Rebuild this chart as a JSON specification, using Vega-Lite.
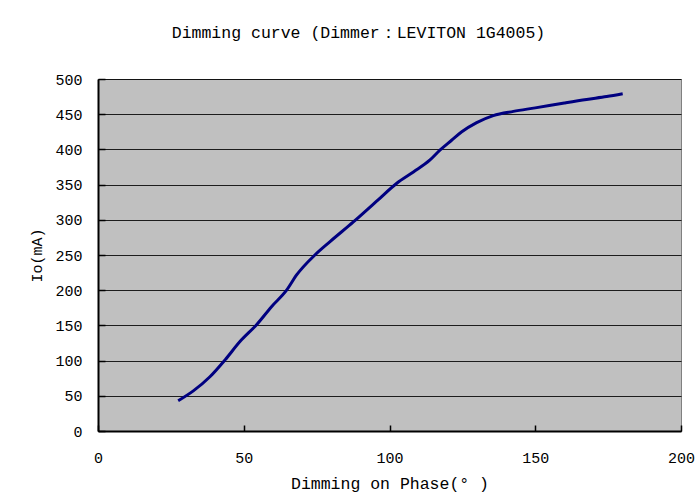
{
  "$schema": "https://vega.github.io/schema/vega-lite/v6.json",
  "autosize": {"type": "none"},
  "padding": {"left": 98, "top": 79, "right": 14, "bottom": 71},
  "width": 583,
  "height": 352,
  "background": "white",
  "title": {
    "text": "Dimming curve (Dimmer：LEVITON 1G4005)",
    "font": "Liberation Mono",
    "fontSize": 16.5,
    "fontWeight": "normal",
    "color": "#000000",
    "offset": 31,
    "dx": -31
  },
  "data": {
    "values": [
      {"phase": 27.5, "io": 43},
      {"phase": 32.7, "io": 57},
      {"phase": 38.4, "io": 77},
      {"phase": 43.6, "io": 101},
      {"phase": 48.7, "io": 127},
      {"phase": 54.4, "io": 151},
      {"phase": 59.6, "io": 177},
      {"phase": 64.7, "io": 200},
      {"phase": 68.2, "io": 222},
      {"phase": 74.4, "io": 250},
      {"phase": 79.6, "io": 269},
      {"phase": 87.6, "io": 297},
      {"phase": 96.0, "io": 328},
      {"phase": 102.5, "io": 352},
      {"phase": 108.2, "io": 368},
      {"phase": 113.9, "io": 385},
      {"phase": 117.3, "io": 399},
      {"phase": 121.3, "io": 413},
      {"phase": 124.8, "io": 425},
      {"phase": 129.9, "io": 438},
      {"phase": 135.6, "io": 448},
      {"phase": 142.5, "io": 454},
      {"phase": 150.0, "io": 459},
      {"phase": 160.0, "io": 466},
      {"phase": 167.6, "io": 471},
      {"phase": 174.5, "io": 475},
      {"phase": 180.0, "io": 479}
    ]
  },
  "mark": {"type": "line", "color": "#000080", "strokeWidth": 3, "interpolate": "monotone"},
  "encoding": {
    "x": {
      "field": "phase",
      "type": "quantitative",
      "scale": {"domain": [0, 200], "nice": false, "zero": false},
      "axis": {
        "title": "Dimming on Phase(° )",
        "values": [0, 50, 100, 150, 200],
        "grid": false,
        "tickSize": -6,
        "labelFlush": false,
        "labelPadding": 25,
        "titlePadding": 10,
        "titleFontSize": 16.5
      }
    },
    "y": {
      "field": "io",
      "type": "quantitative",
      "scale": {"domain": [0, 500], "nice": false},
      "axis": {
        "title": "Io(mA)",
        "values": [0, 50, 100, 150, 200, 250, 300, 350, 400, 450, 500],
        "grid": true,
        "tickSize": -7,
        "labelFlush": false,
        "labelPadding": 23,
        "titlePadding": 10
      }
    }
  },
  "config": {
    "view": {"fill": "#C0C0C0", "stroke": "#808080", "strokeWidth": 1},
    "axis": {
      "labelFont": "Liberation Mono",
      "labelFontSize": 15,
      "labelColor": "#000000",
      "titleFont": "Liberation Mono",
      "titleFontSize": 15,
      "titleFontWeight": "normal",
      "titleColor": "#000000",
      "domainColor": "#000000",
      "domainWidth": 2,
      "tickColor": "#000000",
      "tickWidth": 1.5,
      "gridColor": "#000000",
      "gridOpacity": 0.85,
      "gridWidth": 1.2
    }
  }
}
